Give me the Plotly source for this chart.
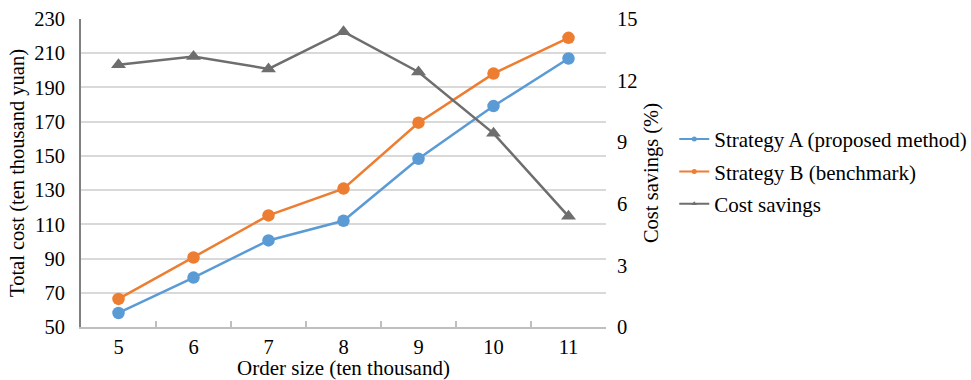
import plotly.graph_objects as go

order_size = ["5", "6", "7", "8", "9", "10", "11"]
strategy_a = [58.2, 78.9, 100.6, 112.1, 148.3, 179.1, 206.9]
strategy_b = [66.4, 90.6, 115.2, 130.9, 169.4, 198.1, 219.0]
cost_savings = [12.77, 13.17, 12.57, 14.38, 12.42, 9.43, 5.39]

series_names = ["Strategy A (proposed method)", "Strategy B (benchmark)", "Cost savings"]
colors = ["#5B9BD5", "#ED7D31", "#6E6E6E"]

FONT = "Liberation Serif, Times New Roman, serif"

fig = go.Figure()
fig.add_trace(go.Scatter(x=order_size, y=strategy_a, name=series_names[0], showlegend=False,
                         mode="lines+markers", line=dict(color=colors[0], width=2.5),
                         marker=dict(size=12.5, color=colors[0])))
fig.add_trace(go.Scatter(x=order_size, y=strategy_b, name=series_names[1], showlegend=False,
                         mode="lines+markers", line=dict(color=colors[1], width=2.5),
                         marker=dict(size=12.5, color=colors[1])))
fig.add_trace(go.Scatter(x=order_size, y=cost_savings, name=series_names[2], yaxis="y2",
                         showlegend=False,
                         mode="lines+markers", line=dict(color=colors[2], width=2.5),
                         marker=dict(size=13, symbol="triangle-up", color=colors[2])))

# legend-only entries (small markers like the original)
symbols = ["circle", "circle", "triangle-up"]
for i, (nm, c, s) in enumerate(zip(series_names, colors, symbols)):
    fig.add_trace(go.Scatter(x=[None], y=[None], name=nm, legendgroup=f"g{i}",
                             mode="lines+markers", line=dict(color=c, width=2),
                             marker=dict(size=5, color=c, symbol=s)))

fig.update_layout(
    width=971, height=380,
    margin=dict(l=81, r=365, t=19, b=53, autoexpand=False),
    paper_bgcolor="white", plot_bgcolor="white",
    font=dict(family=FONT, size=20, color="black"),
    showlegend=True,
    legend=dict(x=1.13, xanchor="left", y=0.505, yanchor="middle",
                font=dict(size=21), itemwidth=30, tracegroupgap=2,
                traceorder="grouped",
                bgcolor="rgba(0,0,0,0)"),
    xaxis=dict(type="category", tickson="boundaries", ticks="inside", ticklen=6,
               tickcolor="#BFBFBF", tickwidth=1.5, showline=True, linecolor="#BFBFBF",
               linewidth=2, showgrid=False, zeroline=False, automargin=False,
               title=dict(text="Order size (ten thousand)", standoff=4, font=dict(size=21)),
               tickfont=dict(size=20.5), range=[-0.5, 6.5]),
    yaxis=dict(range=[50, 230], dtick=20, tick0=50, showgrid=True, gridcolor="#D9D9D9",
               gridwidth=2, showline=True, linecolor="#808080", linewidth=2,
               ticks="", zeroline=False, ticklabelstandoff=10, automargin=False,
               title=dict(text="Total cost (ten thousand yuan)", standoff=4, font=dict(size=20.5)),
               tickfont=dict(size=20.5)),
    yaxis2=dict(range=[0, 15], dtick=3, overlaying="y", side="right", showgrid=False,
                showline=False, zeroline=False, ticks="", ticklabelstandoff=10, automargin=False,
                title=dict(text="Cost savings (%)", standoff=7, font=dict(size=20.5)),
                tickfont=dict(size=20.5)),
)

fig.write_html("out.html")
